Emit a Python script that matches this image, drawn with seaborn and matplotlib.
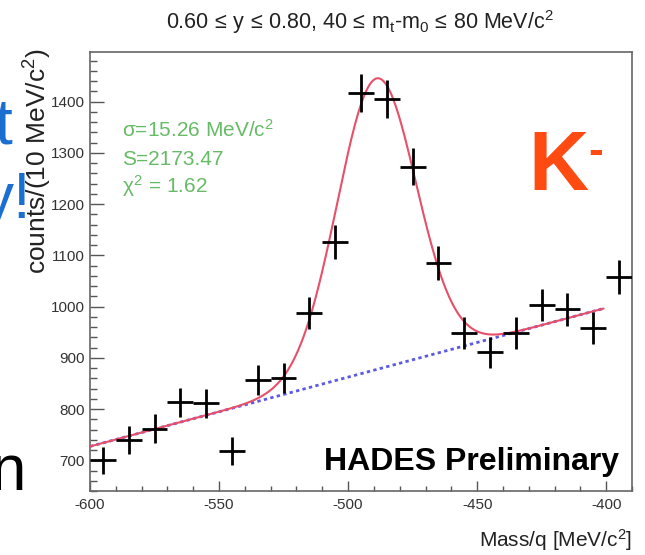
import numpy as np
import pandas as pd
import matplotlib
matplotlib.use("Agg")
import matplotlib.pyplot as plt
import seaborn as sns
from matplotlib.ticker import MultipleLocator

# Mass/q histogram: bin centres [MeV/c^2], counts and statistical errors
mass_centres = [-595, -585, -575, -565, -555, -545, -535, -525, -515, -505, -495,
                -485, -475, -465, -455, -445, -435, -425, -415, -405, -395]
counts = [700, 740, 762, 813, 811, 718, 856, 860, 987, 1126, 1417,
          1405, 1273, 1085, 948, 911, 948, 1003, 995, 958, 1057]
count_errors = [26, 27, 28, 29, 28, 27, 29, 29, 31, 34, 38,
                37, 36, 33, 31, 30, 31, 32, 32, 31, 33]
bin_half_width = 5.0

# Fit result: Gaussian signal on a linear background
fit_sigma = 15.26        # MeV/c^2
fit_signal = 2173.47     # counts (integral / bin width)
fit_chi2 = 1.62
fit_mean = -489.0
bg_at_start = 727.0      # background at -600 MeV/c^2
bg_slope = 1.353         # counts per MeV/c^2
fit_range = (-600.0, -401.0)
bin_width = 10.0

title_text = r"0.60$\,\leq\,$y$\,\leq\,$0.80, 40$\,\leq\,$m$_{\rm t}$-m$_{\rm 0}$$\,\leq\,$80 MeV/c$^{2}$"
x_title = r"Mass/q [MeV/c$^{2}$]"
y_title = r"counts/(10 MeV/c$^{2}$)"

sns.set_theme(style="white")
plt.rcParams["font.family"] = ["Liberation Sans", "DejaVu Sans"]
plt.rcParams["mathtext.fontset"] = "custom"
plt.rcParams["mathtext.rm"] = "Liberation Sans"
plt.rcParams["mathtext.it"] = "Liberation Sans"
plt.rcParams["axes.unicode_minus"] = False

W, H = 645, 555
fig = plt.figure(figsize=(W / 100, H / 100), dpi=100)
ax = fig.add_axes([90 / W, 1 - 491 / H, 542 / W, (491 - 52) / H])


def fx(px):
    return px / W


def fy(py):
    return 1 - py / H


# fit curves
xf = np.linspace(fit_range[0], fit_range[1], 600)
background = bg_at_start + bg_slope * (xf - fit_range[0])
amp = fit_signal * bin_width / (fit_sigma * np.sqrt(2 * np.pi))
total = background + amp * np.exp(-0.5 * ((xf - fit_mean) / fit_sigma) ** 2)
curves = pd.DataFrame({"mass": xf, "bg": background, "total": total})

sns.lineplot(data=curves, x="mass", y="bg", ax=ax, color="#5a5ae6",
             linestyle=(0, (1.2, 1.2)), linewidth=2.0, zorder=2)
sns.lineplot(data=curves, x="mass", y="total", ax=ax, color="#e8506a",
             linewidth=1.5, zorder=3)

hist = pd.DataFrame({"mass": mass_centres, "counts": counts, "err": count_errors})
ax.errorbar(hist["mass"], hist["counts"], yerr=hist["err"], xerr=bin_half_width,
            fmt="none", ecolor="black", elinewidth=2.0, capsize=0, zorder=4)

ax.set_xlim(-600, -390)
ax.set_ylim(640, 1497)
ax.xaxis.set_major_locator(MultipleLocator(50))
ax.xaxis.set_minor_locator(MultipleLocator(10))
ax.yaxis.set_major_locator(MultipleLocator(100))
ax.yaxis.set_minor_locator(MultipleLocator(20))
tick_color = "#555555"
ax.tick_params(axis="x", which="major", direction="in", length=7.5, width=1.0,
               color=tick_color, labelsize=11, labelcolor="#333333", pad=5,
               top=False, bottom=True)
ax.tick_params(axis="x", which="minor", direction="in", length=3.8, width=1.0,
               color=tick_color, top=False, bottom=True)
ax.tick_params(axis="y", which="major", direction="in", length=10, width=1.0,
               color=tick_color, labelsize=11, labelcolor="#333333", pad=4,
               right=False, left=True)
ax.tick_params(axis="y", which="minor", direction="in", length=5, width=1.0,
               color=tick_color, right=False, left=True)
for sp in ax.spines.values():
    sp.set_color("#666666")
    sp.set_linewidth(1.2)
ax.set_xlabel("")
ax.set_ylabel("")

fig.text(fx(632), fy(540), x_title, ha="right", va="center",
         fontsize=15, color="#222222")
fig.text(fx(38), fy(48), y_title, ha="center", va="top",
         rotation=90, fontsize=19, color="#222222")
fig.text(fx(360), fy(22), title_text, ha="center", va="center",
         fontsize=15.5, color="#222222")

green = "#66bb66"
fig.text(fx(122), fy(137), r"$\sigma$=%.2f MeV/c$^{2}$" % fit_sigma,
         fontsize=15, color=green, va="baseline")
fig.text(fx(122), fy(165), "S=%.2f" % fit_signal,
         fontsize=15, color=green, va="baseline")
fig.text(fx(122), fy(193), r"$\chi^{2}$ = %.2f" % fit_chi2,
         fontsize=15, color=green, va="baseline")

orange = "#ff4a12"
fig.text(fx(528), fy(190), "K", fontsize=60, fontweight="bold",
         color=orange, va="baseline")
fig.text(fx(588), fy(164), "-", fontsize=32, fontweight="bold",
         color=orange, va="baseline")
fig.text(fx(619), fy(470), "HADES Preliminary", ha="right",
         va="baseline", fontsize=23, fontweight="bold", color="black")

# slide text running in from the left edge
fig.text(fx(-5), fy(143), "t", fontsize=46, color="#1a6fd1", va="baseline")
fig.text(fx(-18), fy(218), "y!", fontsize=46, color="#1a6fd1", va="baseline")
fig.text(fx(-9), fy(490), "n", fontsize=46, color="black", va="baseline")

fig.savefig("out.png", dpi=100)
